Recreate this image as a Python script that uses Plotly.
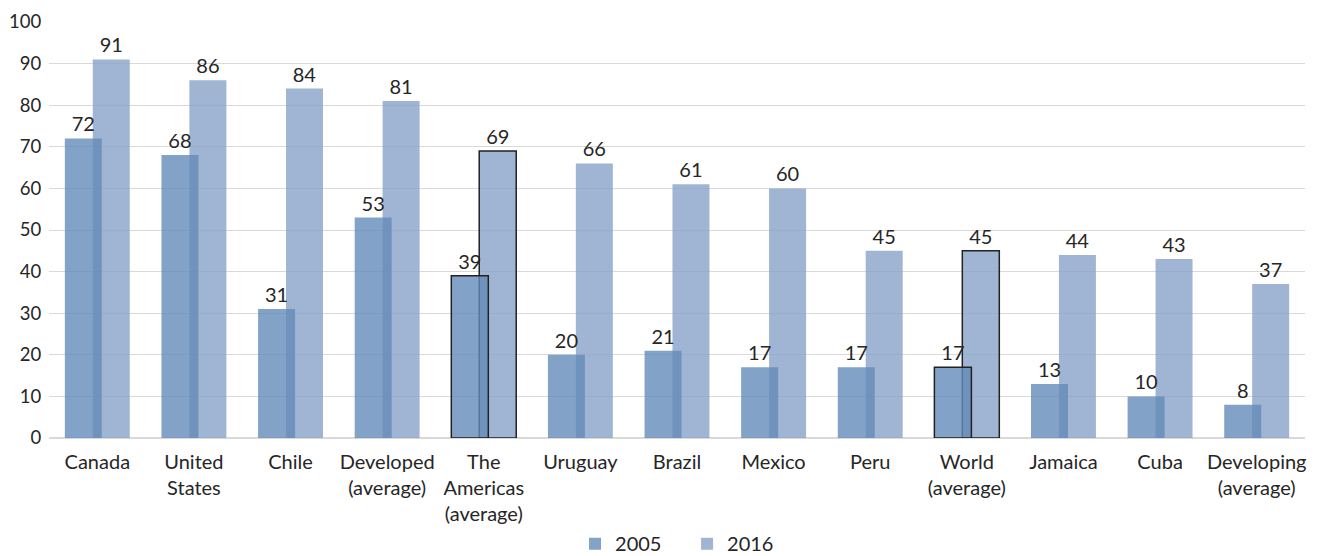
import plotly.graph_objects as go

categories = ["Canada", "United<br>States", "Chile", "Developed<br>(average)", "The<br>Americas<br>(average)",
              "Uruguay", "Brazil", "Mexico", "Peru", "World<br>(average)", "Jamaica", "Cuba", "Developing<br>(average)"]
values_2005 = [72, 68, 31, 53, 39, 20, 21, 17, 17, 17, 13, 10, 8]
values_2016 = [91, 86, 84, 81, 69, 66, 61, 60, 45, 45, 44, 43, 37]
highlighted = ["The<br>Americas<br>(average)", "World<br>(average)"]

FONT = "Lato"
TXT = "#262626"
line_w = [1.5 if c in highlighted else 0 for c in categories]

fig = go.Figure()
fig.add_trace(go.Bar(
    name="2016", x=categories, y=values_2016, width=0.383, offset=-0.047,
    marker=dict(color="rgba(136,162,200,0.8)", line=dict(color="#222222", width=line_w)),
    texttemplate="%{y:.0f}", textposition="outside", cliponaxis=False,
    textfont=dict(size=20, color=TXT, family=FONT), legendrank=2,
))
fig.add_trace(go.Bar(
    name="2005", x=categories, y=values_2005, width=0.383, offset=-0.336,
    marker=dict(color="rgba(100,139,185,0.8)", line=dict(color="#222222", width=line_w)),
    texttemplate="%{y:.0f}", textposition="outside", cliponaxis=False,
    textfont=dict(size=20, color=TXT, family=FONT), legendrank=1,
))

# page body has an 8px default margin, so the figure is 8px smaller on each axis
fig.update_layout(
    barmode="overlay",
    width=1310, height=548,
    margin=dict(l=41, r=13, t=14, b=118, autoexpand=False),
    plot_bgcolor="white", paper_bgcolor="white",
    font=dict(family=FONT, size=20, color=TXT),
    showlegend=True,
    legend=dict(orientation="h", x=0.508, xanchor="center", y=-0.254, yanchor="middle",
                font=dict(size=20), entrywidth=67, entrywidthmode="pixels", traceorder="normal"),
    xaxis=dict(showgrid=False, showline=False, ticks="outside", ticklen=6,
               tickcolor="rgba(0,0,0,0)", tickfont=dict(size=20), automargin=False),
    yaxis=dict(range=[0, 100], dtick=10, showgrid=True, gridcolor="#d9d9d9", gridwidth=1,
               zeroline=True, zerolinecolor="#d9d9d9", ticks="outside", ticklen=3,
               tickcolor="rgba(0,0,0,0)", tickfont=dict(size=18.5), showline=False, automargin=False),
)

fig.write_html("out.html")
